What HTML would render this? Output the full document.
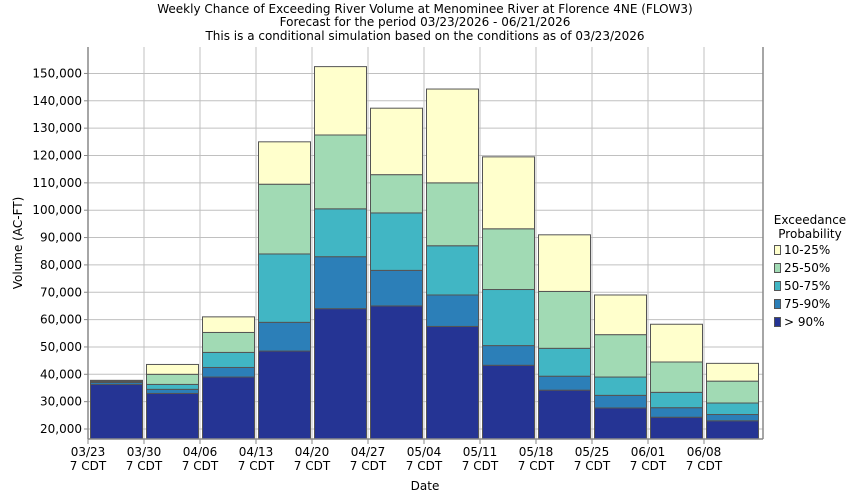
<!DOCTYPE html>
<html><head><meta charset="utf-8"><style>
body{margin:0;background:#fff}
svg{display:block;font-family:"DejaVu Sans","Liberation Sans",sans-serif}
</style></head><body>
<svg id="c" width="850" height="500" viewBox="0 0 850 500">
<rect width="850" height="500" fill="#fff"/>
<g font-size="12" fill="#000" text-anchor="middle">
<text x="425" y="13">Weekly Chance of Exceeding River Volume at Menominee River at Florence 4NE (FLOW3)</text>
<text x="425" y="26">Forecast for the period 03/23/2026 - 06/21/2026</text>
<text x="425" y="40">This is a conditional simulation based on the conditions as of 03/23/2026</text>
</g>
<g id="grid" stroke="#c0c0c0" stroke-width="1"></g>
<g id="bars" stroke="#555" stroke-width="1"></g>
<g stroke="#888" stroke-width="1.5"><line x1="88" y1="47" x2="88" y2="439"/><line x1="88" y1="439" x2="763" y2="439"/><line x1="763" y1="47" x2="763" y2="439"/></g>
<g id="yl" font-size="12" text-anchor="end"></g>
<g id="xl" font-size="12" text-anchor="middle"></g>
<text x="425" y="490" font-size="12" text-anchor="middle">Date</text>
<text transform="translate(22,243) rotate(-90)" font-size="12" text-anchor="middle">Volume (AC-FT)</text>
<g font-size="12">
<text x="810" y="224" text-anchor="middle">Exceedance</text>
<text x="810" y="238" text-anchor="middle">Probability</text>
<rect x="774.5" y="245.5" width="6" height="9" fill="#ffffcc" stroke="#555"/><text x="784" y="254">10-25%</text>
<rect x="774.5" y="263.5" width="6" height="9" fill="#a1dab4" stroke="#555"/><text x="784" y="272">25-50%</text>
<rect x="774.5" y="281.5" width="6" height="9" fill="#41b6c4" stroke="#555"/><text x="784" y="290">50-75%</text>
<rect x="774.5" y="299.5" width="6" height="9" fill="#2c7fb8" stroke="#555"/><text x="784" y="308">75-90%</text>
<rect x="774.5" y="317.5" width="6" height="9" fill="#253494" stroke="#555"/><text x="784" y="326">&gt; 90%</text>
</g>
</svg>
<script>
var ns="http://www.w3.org/2000/svg";
function el(p,t,a,txt){var e=document.createElementNS(ns,t);for(var k in a)e.setAttribute(k,a[k]);if(txt)e.textContent=txt;document.getElementById(p).appendChild(e);return e;}
function Y(v){return 429-(v-20000)*27.35/10000;}
for(var v=20000;v<=150000;v+=10000){var y=Y(v);el("grid","line",{x1:88,x2:763,y1:y,y2:y});el("grid","line",{x1:84,x2:88,y1:y,y2:y,stroke:"#888"});
el("yl","text",{x:82,y:y+4},(v/1000)+",000");}
var d=["03/23","03/30","04/06","04/13","04/20","04/27","05/04","05/11","05/18","05/25","06/01","06/08"];
for(var i=0;i<12;i++){var x=88+56*i;el("grid","line",{x1:x,x2:x,y1:47,y2:439});el("grid","line",{x1:x,x2:x,y1:439,y2:444,stroke:"#888"});
var t=el("xl","text",{x:x,y:456},d[i]);el("xl","text",{x:x,y:470},"7 CDT");}
var data=[[36300,37000,37300,37600,37800],[33000,34500,36300,40000,43600],[39000,42500,48000,55300,61000],[48500,59000,84000,109500,125000],[64000,83000,100500,127500,152500],[65000,78000,99000,113000,137300],[57500,69000,87000,110000,144300],[43300,50500,71000,93200,119500],[34200,39300,49500,70300,91000],[27700,32300,39000,54500,69000],[24300,27800,33400,44500,58300],[23000,25300,29500,37500,44000]];
var col=["#253494","#2c7fb8","#41b6c4","#a1dab4","#ffffcc"];
for(var i=0;i<12;i++){var x=88+56*i+2.5;var prev=439;
for(var j=0;j<5;j++){var y=Y(data[i][j]);el("bars","rect",{x:x,y:y,width:52,height:Math.max(prev-y,0.5),fill:col[j]});prev=y;}}
</script>
</body></html>
